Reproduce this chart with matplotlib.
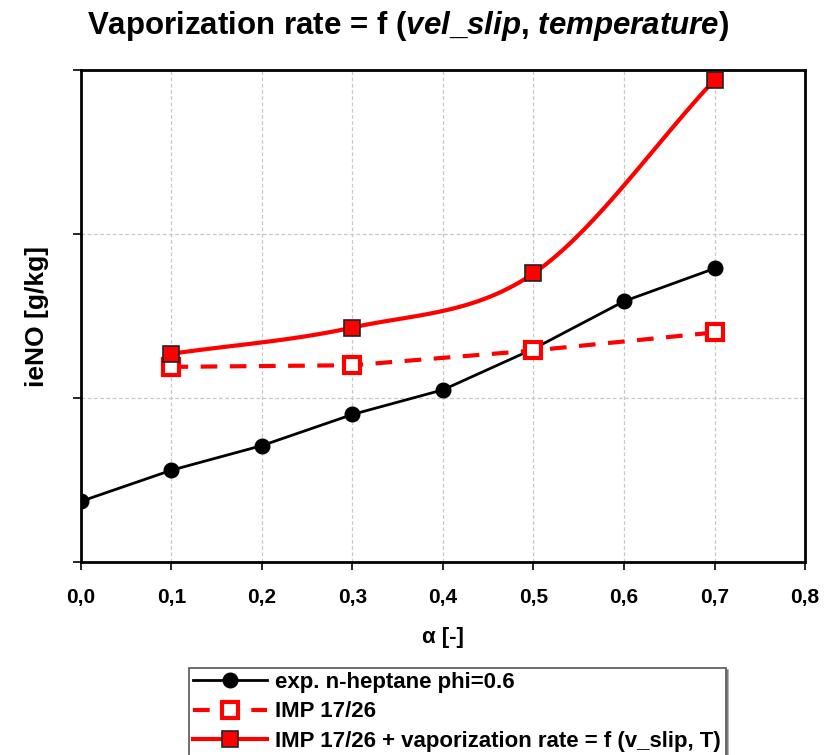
import numpy as np
import matplotlib.pyplot as plt
from matplotlib.ticker import FuncFormatter

plt.rcParams['font.family'] = ['Liberation Sans', 'DejaVu Sans']
plt.rcParams['font.weight'] = 'bold'
plt.rcParams['mathtext.fontset'] = 'custom'
plt.rcParams['mathtext.it'] = 'Liberation Sans:bold:italic'
plt.rcParams['mathtext.rm'] = 'Liberation Sans:bold'

## Data
alpha_exp = [0.0, 0.1, 0.2, 0.3, 0.4, 0.5, 0.6, 0.7]
ieno_exp = [0.37, 0.56, 0.71, 0.90, 1.05, 1.30, 1.59, 1.79]

alpha_imp = [0.1, 0.3, 0.5, 0.7]
ieno_imp = [1.19, 1.20, 1.29, 1.40]
ieno_imp_vap = [1.27, 1.43, 1.76, 2.94]

label_exp = 'exp. n-heptane phi=0.6'
label_imp = 'IMP 17/26'
label_imp_vap = 'IMP 17/26 + vaporization rate = f (v_slip, T)'


## Smoothed line through points (Catmull-Rom, like a spreadsheet "smoothed line")
def smooth(x, y, n=40):
    x = np.asarray(x, float)
    y = np.asarray(y, float)
    px = np.concatenate([[2*x[0] - x[1]], x, [2*x[-1] - x[-2]]])
    py = np.concatenate([[2*y[0] - y[1]], y, [2*y[-1] - y[-2]]])
    xs, ys = [], []
    t = np.linspace(0, 1, n)
    for i in range(1, len(px) - 2):
        for p, out in ((px, xs), (py, ys)):
            p0, p1, p2, p3 = p[i-1], p[i], p[i+1], p[i+2]
            out.extend(0.5*((2*p1) + (-p0 + p2)*t + (2*p0 - 5*p1 + 4*p2 - p3)*t**2
                            + (-p0 + 3*p1 - 3*p2 + p3)*t**3))
    return xs, ys


fig = plt.figure(figsize=(8.39, 7.55), dpi=100)
ax = fig.add_axes([0.0965, 0.2556, 0.8630, 0.6516])

ax.plot(alpha_exp, ieno_exp, color='black', lw=2, marker='o', ms=10.5,
        label=label_exp, zorder=3)
ax.plot(alpha_imp, ieno_imp, color='red', lw=3, ls=(0, (4, 3)), marker='s', ms=12,
        mfc='white', mec='red', mew=3, label=label_imp, zorder=4)
sx, sy = smooth(alpha_imp, ieno_imp_vap)
ax.plot(sx, sy, color='red', lw=3, zorder=5)
ax.plot(alpha_imp, ieno_imp_vap, ls='none', marker='s', ms=12, mfc='red',
        mec='#222222', mew=1.2, zorder=6)
# legend handle for the smoothed series
ax.plot([], [], color='red', lw=3, marker='s', ms=12, mfc='red', mec='#222222',
        mew=1.2, label=label_imp_vap)

ax.set_xlim(0, 0.8)
ax.set_ylim(0, 3)
ax.set_xticks(np.arange(0, 0.81, 0.1))
ax.set_yticks([0, 1, 2, 3])
ax.xaxis.set_major_formatter(FuncFormatter(lambda v, p: f'{v:.1f}'.replace('.', ',')))
ax.set_yticklabels([])
ax.tick_params(axis='both', direction='out', length=6, width=1.2, labelsize=15, pad=13)
ax.grid(True, color='#c8c8c8', ls=(0, (3, 2)), lw=0.9)
ax.set_axisbelow(True)
for s in ax.spines.values():
    s.set_linewidth(2)

ax.set_xlabel('α [-]', fontsize=16, fontweight='bold', labelpad=14)
ax.set_ylabel('ieNO [g/kg]', fontsize=19, fontweight='bold', labelpad=4)

fig.text(0.486, 0.965, r'Vaporization rate = f ($\mathit{vel\_slip}$, $\mathit{temperature}$)',
         ha='center', va='center', fontsize=22.5, fontweight='bold')

leg = ax.legend(loc='upper left', bbox_to_anchor=(0.1335, -0.192), fontsize=16,
                frameon=True, fancybox=False, shadow=True, handlelength=3.3,
                borderpad=0.2, labelspacing=0.38, handletextpad=0.4)
leg.get_frame().set_edgecolor('#555555')
leg.get_frame().set_linewidth(1.2)

fig.savefig('out.png', dpi=100)
